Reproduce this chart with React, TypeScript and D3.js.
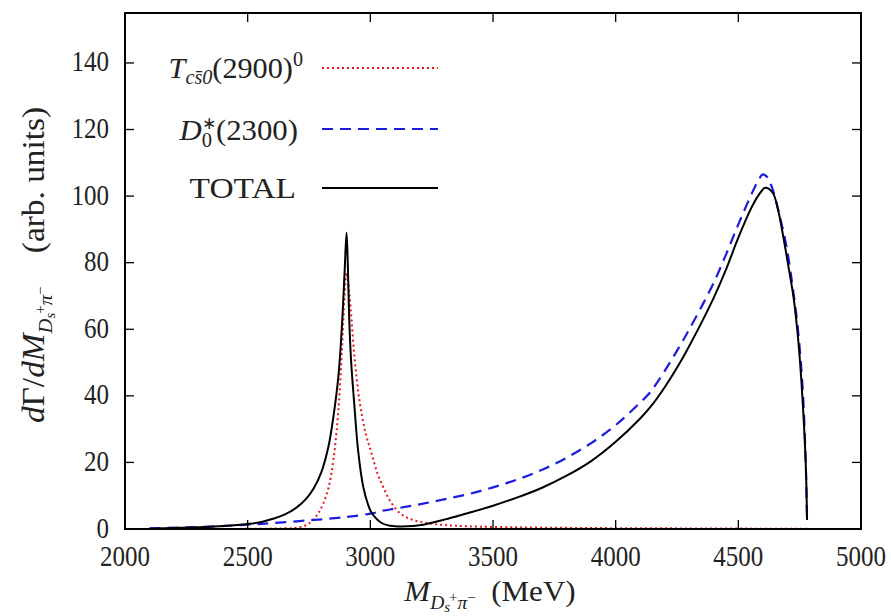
import React from "react";
import * as d3 from "d3";

// ---- data (MeV, arb. units) ----
const totalMass = [2100, 2200, 2300, 2400, 2500, 2550, 2600, 2650, 2700, 2740, 2770, 2800, 2830, 2850, 2870, 2885, 2895, 2903, 2908, 2914, 2922, 2933, 2951, 2971, 2990, 3006, 3046, 3080, 3150, 3200, 3250, 3300, 3350, 3400, 3500, 3600, 3700, 3800, 3900, 4000, 4100, 4140, 4200, 4275, 4300, 4350, 4400, 4450, 4500, 4550, 4580, 4610, 4640, 4660, 4684, 4705, 4725, 4740, 4752, 4762, 4772, 4777, 4780];
const totalValue = [0.1, 0.3, 0.5, 0.9, 1.5, 2.0, 3.0, 4.3, 6.5, 9.2, 12.3, 17, 25, 34, 46, 62, 77, 89, 80, 63, 50, 39, 23, 12.7, 7.5, 4.8, 1.8, 1.0, 0.8, 1.1, 1.9, 2.8, 3.75, 4.8, 7.0, 9.5, 12.4, 16, 20.4, 26.2, 33.2, 36.5, 42.6, 51.6, 55, 62, 69.5, 78, 87.5, 96, 100, 102.5, 101, 96.5, 87.5, 78.5, 69.6, 60, 49.7, 38.5, 24.7, 14, 2.7];

const d0Mass = [2100, 2300, 2500, 2600, 2750, 2900, 3000, 3052, 3100, 3200, 3300, 3400, 3500, 3600, 3700, 3800, 3900, 4000, 4100, 4140, 4200, 4275, 4300, 4350, 4400, 4450, 4500, 4550, 4580, 4600, 4620, 4640, 4670, 4697, 4720, 4740, 4755, 4765, 4772, 4777, 4780];
const d0Value = [0.2, 0.6, 1.3, 1.8, 2.6, 3.6, 4.6, 5.5, 6.1, 7.4, 8.9, 10.5, 12.5, 14.9, 17.8, 21.4, 25.8, 31.2, 38, 41, 47.5, 56.7, 60, 66.8, 74, 82.5, 91.5, 100, 104.5, 106.5, 105.5, 102, 93.6, 84.6, 73.5, 62, 50, 38.5, 26, 14, 2.7];

const tcsMass = [2100, 2500, 2650, 2700, 2740, 2770, 2790, 2810, 2830, 2850, 2870, 2885, 2895, 2903, 2910, 2920, 2935, 2955, 2980, 3005, 3030, 3052, 3080, 3120, 3170, 3230, 3300, 3400, 3600, 3800, 4000, 4200, 4400, 4600, 4780];
const tcsValue = [0, 0.05, 0.2, 0.4, 1.2, 3, 5, 8, 12.5, 21, 36, 55, 70, 77, 74, 66, 52, 39, 29, 22.7, 16.5, 12.7, 8.5, 4.8, 2.8, 1.8, 1.2, 0.8, 0.5, 0.35, 0.25, 0.2, 0.15, 0.1, 0.05];

const xTicks = [2000, 2500, 3000, 3500, 4000, 4500, 5000];
const yTicks = [0, 20, 40, 60, 80, 100, 120, 140];

const W = 891;
const H = 616;
const FONT = "Liberation Serif";
const RED = "#e8141c";
const BLUE = "#1c1ce0";

function MassSub({ big, small }: { big: number; small: number }) {
  return (
    <>
      <tspan fontStyle="italic" fontSize={big} dy={7}>
        D
      </tspan>
      <tspan fontStyle="italic" fontSize={small} dy={3}>
        s
      </tspan>
      <tspan fontSize={small} dx={-1} dy={-9}>
        +
      </tspan>
      <tspan fontStyle="italic" fontSize={big} dy={6}>
        {"\u03c0"}
      </tspan>
      <tspan fontSize={small} dy={-6}>
        {"\u2212"}
      </tspan>
    </>
  );
}

export default function App() {
  const x = d3.scaleLinear().domain([2000, 5000]).range([125, 861]);
  const y = d3.scaleLinear().domain([0, 155]).range([529, 13]);

  const mk = (ms: number[], vs: number[]) =>
    d3
      .line<number>()
      .x((_, i) => x(ms[i]))
      .y((v) => y(Math.max(0, v)))
      .curve(d3.curveCatmullRom.alpha(0.5))(vs) as string;

  const tcsPath = mk(tcsMass, tcsValue);
  const d0Path = mk(d0Mass, d0Value);
  const totPath = mk(totalMass, totalValue);

  const [x0, x1] = x.range();
  const [yb, yt] = y.range();
  const tl = 9;
  const sy = 1.16;

  return (
    <svg
      width={W}
      height={H}
      style={{ position: "absolute", left: 0, top: 0, background: "#fff", fontFamily: FONT }}
    >
      <rect x={0} y={0} width={W} height={H} fill="#fff" />
      {/* curves */}
      <path d={tcsPath} fill="none" stroke={RED} strokeWidth={2} strokeDasharray="2,3" />
      <path d={d0Path} fill="none" stroke={BLUE} strokeWidth={2.2} strokeDasharray="11,7" />
      <path d={totPath} fill="none" stroke="#000" strokeWidth={2} />

      {/* ticks */}
      {xTicks.map((t) => (
        <g key={"xt" + t}>
          <line x1={x(t)} x2={x(t)} y1={yb} y2={yb - tl} stroke="#000" strokeWidth={1.3} />
          <line x1={x(t)} x2={x(t)} y1={yt} y2={yt + tl} stroke="#000" strokeWidth={1.3} />
          <g transform={`translate(${x(t)},${566}) scale(1,${sy})`}>
            <text textAnchor="middle" fontSize={25} fill="#222">
              {t}
            </text>
          </g>
        </g>
      ))}
      {yTicks.map((t) => (
        <g key={"yt" + t}>
          <line x1={x0} x2={x0 + tl} y1={y(t)} y2={y(t)} stroke="#000" strokeWidth={1.3} />
          <line x1={x1} x2={x1 - tl} y1={y(t)} y2={y(t)} stroke="#000" strokeWidth={1.3} />
          <g transform={`translate(${109},${y(t) + 8.5}) scale(1,${sy})`}>
            <text textAnchor="end" fontSize={25} fill="#222">
              {t}
            </text>
          </g>
        </g>
      ))}

      {/* frame */}
      <rect x={x0} y={yt} width={x1 - x0} height={yb - yt} fill="none" stroke="#000" strokeWidth={2} />

      {/* legend */}
      <g transform={`translate(303,78) scale(1.12,1.12)`}>
        <text textAnchor="end" fontSize={27} fill="#222">
          <tspan fontStyle="italic">T</tspan>
          <tspan fontStyle="italic" fontSize={18} dy={5}>
            {"cs\u03040"}
          </tspan>
          <tspan dy={-5}>(2900)</tspan>
          <tspan fontSize={18} dy={-11}>
            0
          </tspan>
        </text>
      </g>
      <line x1={322} x2={438} y1={68} y2={68} stroke={RED} strokeWidth={2} strokeDasharray="2,3" />

      <g transform={`translate(298,140) scale(1.14,1.12)`}>
        <text textAnchor="end" fontSize={27} fill="#222">
          <tspan fontStyle="italic">D</tspan>
          <tspan fontSize={18} dy={6}>
            0
          </tspan>
          <tspan fontSize={15} dx={-9} dy={-16}>
            {"\u2217"}
          </tspan>
          <tspan dy={10}>(2300)</tspan>
        </text>
      </g>
      <line x1={322} x2={438} y1={129} y2={129} stroke={BLUE} strokeWidth={2.2} strokeDasharray="11,7" />

      <g transform={`translate(296,198) scale(1.24,1.12)`}>
        <text textAnchor="end" fontSize={27} fill="#222">
          TOTAL
        </text>
      </g>
      <line x1={322} x2={438} y1={188} y2={188} stroke="#000" strokeWidth={2} />

      {/* x label */}
      <g transform={`translate(490,601) scale(1.15,1.1)`}>
        <text textAnchor="middle" fontSize={27} fill="#222">
          <tspan fontStyle="italic">M</tspan>
          <MassSub big={17} small={13} />
          <tspan dy={-1}>{"\u2002(MeV)"}</tspan>
        </text>
      </g>

      {/* y label */}
      <g transform={`translate(44,265) rotate(-90) scale(1.15,1.1)`}>
        <text textAnchor="middle" fontSize={29} fill="#222">
          <tspan fontStyle="italic">d</tspan>
          <tspan>Γ</tspan>
          <tspan>/</tspan>
          <tspan fontStyle="italic">dM</tspan>
          <MassSub big={18} small={13} />
          <tspan dy={-1}>{"\u2003(arb. units)"}</tspan>
        </text>
      </g>
    </svg>
  );
}
